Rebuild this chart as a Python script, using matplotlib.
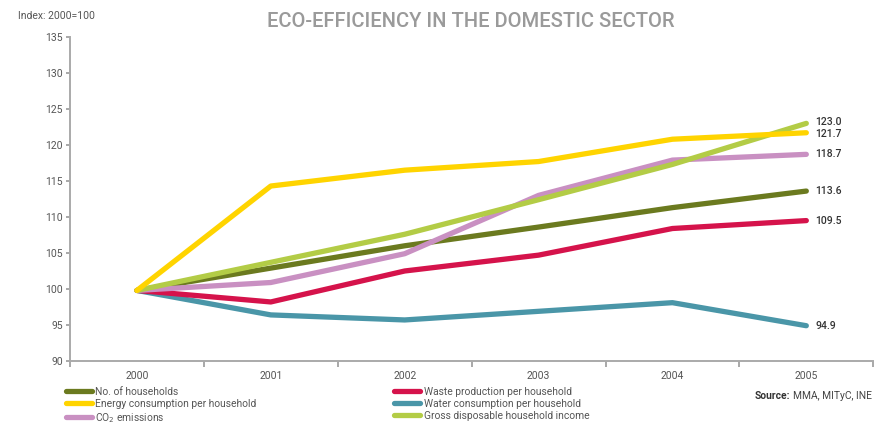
import matplotlib.pyplot as plt

years = ['2000', '2001', '2002', '2003', '2004', '2005']

households = [99.8, 102.9, 106.0, 108.6, 111.3, 113.6]
energy = [99.8, 114.3, 116.5, 117.7, 120.8, 121.7]
co2 = [99.8, 100.9, 104.9, 113.0, 117.9, 118.7]
waste = [99.8, 98.2, 102.5, 104.7, 108.4, 109.5]
water = [99.8, 96.4, 95.7, 96.9, 98.1, 94.9]
income = [99.8, 103.7, 107.6, 112.4, 117.3, 123.0]

end_labels = ['113.6', '121.7', '118.7', '109.5', '94.9', '123.0']

series = [
    ('No. of households', households, '#6b7a1f'),
    ('Energy consumption per household', energy, '#ffd400'),
    ('CO$_2$ emissions', co2, '#c990c2'),
    ('Waste production per household', waste, '#d5134b'),
    ('Water consumption per household', water, '#4a96a8'),
    ('Gross disposable household income', income, '#b3cc46'),
]
# drawing order (back to front) roughly as in the picture
draw_order = [4, 3, 0, 2, 5, 1]

plt.rcParams['font.family'] = ['Roboto', 'DejaVu Sans']
grey = '#555555'

fig = plt.figure(figsize=(8.75, 4.25), dpi=100)
ax = fig.add_axes([0.08, 0.1506, 0.918, 0.7624])

x = list(range(len(years)))
handles = {}
for i in draw_order:
    name, vals, col = series[i]
    ln, = ax.plot(x, vals, color=col, lw=3.8, solid_capstyle='round',
                  solid_joinstyle='round', label=name)
    handles[i] = ln

# end value labels
label_y = {0: 113.6, 1: 121.5, 2: 118.7, 3: 109.5, 4: 94.9, 5: 123.2}
for i in range(6):
    ax.text(5.07, label_y[i], end_labels[i], fontsize=7.5, color='#333333',
            va='center', ha='left', fontweight='medium')

ax.set_xlim(-0.5, 5.5)
ax.set_ylim(90, 135)
ax.set_yticks(range(90, 136, 5))
ax.set_xticks(x)
ax.set_xticklabels(years)
ax.set_xticks([i + 0.5 for i in range(-1, 6)], minor=True)
ax.tick_params(axis='x', which='major', length=0, pad=7, labelsize=7.5, labelcolor=grey)
ax.tick_params(axis='x', which='minor', length=4, width=1.2, color='#999999', direction='out')
ax.tick_params(axis='y', length=3, width=1.2, color='#999999', labelsize=7.5, labelcolor=grey, pad=2)

for s in ['top', 'right']:
    ax.spines[s].set_visible(False)
for s in ['left', 'bottom']:
    ax.spines[s].set_color('#aaaaaa')
    ax.spines[s].set_linewidth(1.4)

fig.text(0.538, 0.95, 'ECO-EFFICIENCY IN THE DOMESTIC SECTOR', ha='center', va='center',
         fontsize=14.5, color='#9a9a9a', fontweight='medium')
fig.text(0.02, 0.962, 'Index: 2000=100', ha='left', va='center', fontsize=7.5, color=grey)

leg_kw = dict(frameon=False, fontsize=7.4, handlelength=2.6, handletextpad=0.3,
              labelspacing=0.2, borderaxespad=0, borderpad=0, labelcolor=grey)
fig.legend([handles[i] for i in [0, 1, 2]], [series[i][0] for i in [0, 1, 2]],
           loc='upper left', bbox_to_anchor=(0.075, 0.09), **leg_kw)
fig.legend([handles[i] for i in [3, 4, 5]], [series[i][0] for i in [3, 4, 5]],
           loc='upper left', bbox_to_anchor=(0.45, 0.09), **leg_kw)

src = fig.text(0.862, 0.068, 'Source:', ha='left', va='center', fontsize=7.4, color='#333333',
               fontweight='bold')
fig.canvas.draw()
bb = src.get_window_extent().transformed(fig.transFigure.inverted())
fig.text(bb.x1 + 0.004, 0.068, 'MMA, MITyC, INE', ha='left', va='center', fontsize=7.4,
         color='#444444')

fig.savefig('out.png', dpi=100)
